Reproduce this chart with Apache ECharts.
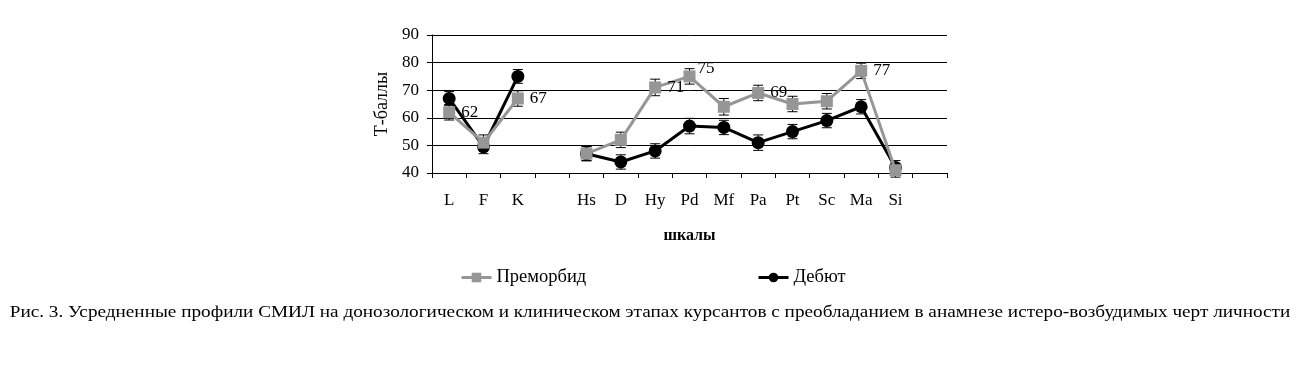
<!DOCTYPE html>
<html><head><meta charset="utf-8">
<script src="https://cdn.jsdelivr.net/npm/echarts@6/dist/echarts.min.js"></script>
<style>html,body{margin:0;padding:0;background:#fff}#c{width:1313px;height:372px}</style>
</head><body><div id="c"></div>
<script>
const categories = ['L','F','K','','Hs','D','Hy','Pd','Mf','Pa','Pt','Sc','Ma','Si',''];
const premorbid = [62,51,67,null,47,52,71,75,64,69,65,66,77,41,null];
const premorbidErr = [2.8,2.8,2.8,null,2.5,2.8,3,2.8,3,2.8,2.8,2.8,2.8,2.5,null];
const debut = [67,49.5,75,null,47,44,48,57,56.5,51,55,59,64,42,null];
const debutErr = [2.5,2.5,2.5,null,2.6,2.6,2.6,2.8,2.6,2.8,2.6,2.6,2.6,2.5,null];
const premorbidLabels = [62,null,67,null,null,null,71,75,null,69,null,null,77,null,null];
const yTicks = [40,50,60,70,80,90];
const seriesNames = ['Преморбид','Дебют'];
const caption = 'Рис. 3. Усредненные профили СМИЛ на донозологическом и клиническом этапах курсантов с преобладанием в анамнезе истеро-возбудимых черт личности';

const FONT = '"Liberation Serif","Times New Roman",serif';
const GRAY = '#969696';

function errSeries(vals, errs, color) {
  const data = vals.map((v, i) => v == null ? null : [i, v - errs[i], v + errs[i]]).filter(d => d);
  return {
    type: 'custom', z: 1, silent: true,
    data: data,
    renderItem: function (params, api) {
      const x = api.value(0);
      const lo = api.coord([x, api.value(1)]);
      const hi = api.coord([x, api.value(2)]);
      const w = 5;
      const st = { stroke: color, lineWidth: 1 };
      return { type: 'group', children: [
        { type: 'line', shape: { x1: lo[0], y1: lo[1], x2: hi[0], y2: hi[1] }, style: st },
        { type: 'line', shape: { x1: lo[0]-w, y1: lo[1], x2: lo[0]+w, y2: lo[1] }, style: st },
        { type: 'line', shape: { x1: hi[0]-w, y1: hi[1], x2: hi[0]+w, y2: hi[1] }, style: st }
      ]};
    },
    encode: { x: 0, y: [1, 2] }
  };
}

const chart = echarts.init(document.getElementById('c'), null, { renderer: 'canvas' });
chart.setOption({
  animation: false,
  textStyle: { fontFamily: FONT },
  grid: { left: 432, top: 35, width: 515, height: 138, containLabel: false },
  xAxis: {
    type: 'category', data: categories, boundaryGap: true,
    name: 'шкалы', nameLocation: 'middle', nameGap: 55,
    nameTextStyle: { fontFamily: FONT, fontSize: 16, fontWeight: 'bold', color: '#000' },
    axisLine: { lineStyle: { color: '#000', width: 1 } },
    axisTick: { show: true, alignWithLabel: false, length: 5, lineStyle: { color: '#000' }, interval: 0 },
    axisLabel: { fontFamily: FONT, fontSize: 17, color: '#000', margin: 19, interval: 0 }
  },
  yAxis: {
    type: 'value', min: 40, max: 90, interval: 10,
    name: 'Т-баллы', nameLocation: 'middle', nameGap: 41, nameRotate: 90,
    nameTextStyle: { fontFamily: FONT, fontSize: 18, color: '#000' },
    axisLine: { show: true, lineStyle: { color: '#000', width: 1 } },
    axisTick: { show: true, length: 5, lineStyle: { color: '#000' } },
    axisLabel: { fontFamily: FONT, fontSize: 17, color: '#000', margin: 13,
      formatter: v => yTicks.includes(v) ? String(v) : '' },
    splitLine: { show: true, lineStyle: { color: '#000', width: 1 } }
  },
  legend: [
    { data: [seriesNames[0]], left: 455, top: 263, itemWidth: 30, itemHeight: 12, itemGap: 6,
      lineStyle: { width: 3 },
      textStyle: { fontFamily: FONT, fontSize: 18.5, color: '#000' } },
    { data: [seriesNames[1]], left: 752, top: 263, itemWidth: 30, itemHeight: 12, itemGap: 6,
      lineStyle: { width: 3 },
      textStyle: { fontFamily: FONT, fontSize: 18.5, color: '#000' } }
  ],
  graphic: [{
    type: 'text', x: 650, y: 313, scaleX: 1.165,
    style: { text: caption, font: '16.5px ' + FONT, fill: '#000', textAlign: 'center', textVerticalAlign: 'middle' }
  }],
  series: [
    errSeries(premorbid, premorbidErr, '#000'),
    errSeries(debut, debutErr, '#000'),
    {
      name: seriesNames[1], type: 'line', data: debut, z: 3,
      symbol: 'circle', symbolSize: 13, connectNulls: false,
      itemStyle: { color: '#000' }, lineStyle: { color: '#000', width: 3 }
    },
    {
      name: seriesNames[0], type: 'line', z: 4,
      data: premorbid.map((v, i) => ({ value: v, label: { show: premorbidLabels[i] != null,
        position: i === 7 ? [14, -10] : 'right', distance: 6 } })),
      symbol: 'rect', symbolSize: 12, connectNulls: false,
      itemStyle: { color: GRAY }, lineStyle: { color: GRAY, width: 3 },
      label: { fontFamily: FONT, fontSize: 17, color: '#000', formatter: p => premorbidLabels[p.dataIndex] }
    }
  ]
});
</script></body></html>
